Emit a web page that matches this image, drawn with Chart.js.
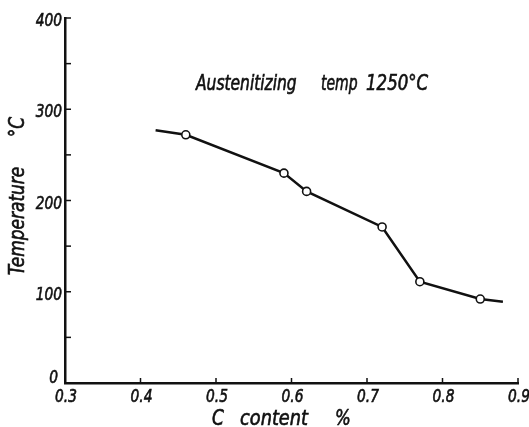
<!DOCTYPE html>
<html>
<head>
<meta charset="utf-8">
<script src="https://cdn.jsdelivr.net/npm/chart.js@4"></script>
<style>
  html, body { margin: 0; background: #fff; }
  #wrap { width: 529px; height: 427px; }
</style>
</head>
<body>
<div id="wrap"><canvas id="chart"></canvas></div>
<script>
// C content (%) and transformation temperature (°C)
const carbon = [0.42, 0.46, 0.59, 0.62, 0.72, 0.77, 0.85, 0.88];
const temperature = [277, 272, 230, 210, 171, 111, 92, 89];
// the curve's ends carry no marker
const marked = [false, true, true, true, true, true, true, false];

const X_MIN = 0.3, X_MAX = 0.9, X_STEP = 0.1;
const Y_MIN = 0, Y_MAX = 400, Y_STEP = 50, Y_LABEL_STEP = 100;

const FONT = '"DejaVu Sans Condensed", "DejaVu Sans", sans-serif';
const INK = '#111';

// narrow italic text, squeezed horizontally like the drafting lettering
function narrowText(ctx, str, x, y, size, squeeze, align) {
  ctx.save();
  ctx.font = 'italic ' + size + 'px ' + FONT;
  ctx.textAlign = align || 'left';
  ctx.textBaseline = 'alphabetic';
  ctx.fillStyle = INK;
  ctx.strokeStyle = INK;
  ctx.lineWidth = 0.6;
  ctx.translate(x, y);
  ctx.scale(squeeze, 1);
  ctx.fillText(str, 0, 0);
  ctx.strokeText(str, 0, 0);
  ctx.restore();
}

// tick marks pointing into the plot and the tick labels
const axisDecor = {
  id: 'axisDecor',
  afterDraw(chart) {
    const { ctx, chartArea, scales } = chart;
    ctx.save();
    ctx.strokeStyle = INK;
    ctx.lineWidth = 1.5;
    scales.x.ticks.forEach(t => {
      const px = scales.x.getPixelForValue(t.value);
      ctx.beginPath();
      ctx.moveTo(px, chartArea.bottom);
      ctx.lineTo(px, chartArea.bottom - 5);
      ctx.stroke();
      narrowText(ctx, t.value.toFixed(1), px + 1, chartArea.bottom + 19, 18, 0.85, 'center');
    });
    scales.y.ticks.forEach(t => {
      const py = scales.y.getPixelForValue(t.value);
      ctx.beginPath();
      ctx.moveTo(chartArea.left, py);
      ctx.lineTo(chartArea.left + 6, py);
      ctx.stroke();
      if (t.value % Y_LABEL_STEP === 0) {
        const base = Math.min(py + 8, chartArea.bottom);
        const right = t.value === Y_MIN ? chartArea.left - 7 : chartArea.left - 3;
        narrowText(ctx, String(t.value), right, base, 18, 0.85, 'right');
      }
    });
    ctx.restore();
  }
};

// axis titles and the note, placed where the original has them
const texts = {
  id: 'texts',
  afterDraw(chart) {
    const { ctx } = chart;
    ctx.save();
    narrowText(ctx, 'Austenitizing', 196, 90, 21, 0.82);
    narrowText(ctx, 'temp', 321, 90, 21, 0.74);
    narrowText(ctx, '1250°C', 366, 90, 21, 0.88);

    narrowText(ctx, 'C', 212, 425, 21, 0.9);
    narrowText(ctx, 'content', 240, 425, 21, 0.94);
    narrowText(ctx, '%', 335, 425, 21, 0.88);

    ctx.translate(24, 0);
    ctx.rotate(-Math.PI / 2);
    narrowText(ctx, 'Temperature', -221, 0, 21, 0.9, 'center');
    narrowText(ctx, '°C', -127, 0, 21, 0.9, 'center');
    ctx.restore();
  }
};

new Chart(document.getElementById('chart'), {
  type: 'scatter',
  data: {
    datasets: [{
      data: carbon.map((c, i) => ({ x: c, y: temperature[i] })),
      showLine: true,
      borderColor: INK,
      borderWidth: 2.5,
      pointRadius: marked.map(m => (m ? 4 : 0)),
      pointBackgroundColor: '#fff',
      pointBorderColor: INK,
      pointBorderWidth: 1.6,
      tension: 0
    }]
  },
  options: {
    responsive: true,
    maintainAspectRatio: false,
    animation: false,
    layout: { padding: { left: 0, top: 18, right: 11, bottom: 0 } },
    plugins: {
      legend: { display: false },
      tooltip: { enabled: false }
    },
    scales: {
      x: {
        type: 'linear',
        min: X_MIN,
        max: X_MAX,
        grid: { display: false, drawTicks: false },
        border: { color: INK, width: 2.5 },
        ticks: { stepSize: X_STEP, display: false },
        afterFit(scale) {
          scale.height = 44;
          scale.paddingLeft = 0;
          scale.paddingRight = 0;
        }
      },
      y: {
        min: Y_MIN,
        max: Y_MAX,
        grid: { display: false, drawTicks: false },
        border: { color: INK, width: 2.5 },
        ticks: { stepSize: Y_STEP, display: false },
        afterFit(scale) {
          scale.width = 65;
          scale.paddingTop = 0;
          scale.paddingBottom = 0;
        }
      }
    }
  },
  plugins: [axisDecor, texts]
});
</script>
</body>
</html>
